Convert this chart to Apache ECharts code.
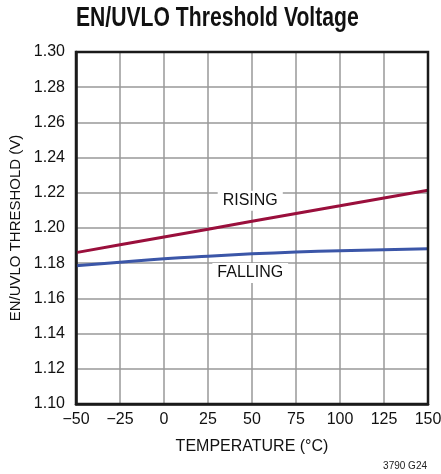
<!DOCTYPE html>
<html>
<head>
<meta charset="utf-8">
<script src="https://cdn.jsdelivr.net/npm/echarts@6/dist/echarts.min.js"></script>
<style>
html,body{margin:0;padding:0;background:#fff;}
#c{width:441px;height:474px;}
</style>
</head>
<body>
<div id="c"></div>
<script>
var temps = [-50, -25, 0, 25, 50, 75, 100, 125, 150];
var rising = [1.1860, 1.1905, 1.1949, 1.1993, 1.2038, 1.2082, 1.2126, 1.2171, 1.2215];
var falling = [1.1785, 1.1805, 1.1825, 1.1840, 1.1853, 1.1863, 1.1871, 1.1877, 1.1882];
var xTicks = [-50, -25, 0, 25, 50, 75, 100, 125, 150];
var yTicks = [1.10, 1.12, 1.14, 1.16, 1.18, 1.20, 1.22, 1.24, 1.26, 1.28, 1.30];
var labelRising = 'RISING';
var labelFalling = 'FALLING';

var FONT = "'Liberation Sans', Arial, sans-serif";

function pairs(xs, ys) { return xs.map(function (x, i) { return [x, ys[i]]; }); }

var chart = echarts.init(document.getElementById('c'), null, { renderer: 'canvas' });
chart.setOption({
  animation: false,
  backgroundColor: '#fff',
  graphic: [
    {
      type: 'text', left: 76, top: 4, scaleX: 0.755, originX: 0,
      style: { text: 'EN/UVLO Threshold Voltage', font: "bold 28px " + FONT, fill: '#111' }
    },
    {
      type: 'text', right: 14, top: 461,
      style: { text: '3790 G24', font: "10px " + FONT, fill: '#222' }
    }
  ],
  grid: {
    left: 76, top: 52, width: 352, height: 352,
    outerBoundsMode: 'none', containLabel: false,
    show: true, borderColor: '#1a1a1a', borderWidth: 2.5, backgroundColor: 'transparent',
    z: 5
  },
  xAxis: {
    type: 'value', min: xTicks[0], max: xTicks[xTicks.length - 1], interval: 25,
    name: 'TEMPERATURE (°C)', nameLocation: 'middle', nameGap: 35,
    nameTextStyle: { fontFamily: FONT, fontSize: 16, color: '#111' },
    axisLine: { show: true, onZero: false, lineStyle: { color: '#1a1a1a', width: 2.5 } },
    axisTick: { show: false },
    axisLabel: {
      margin: 8, fontFamily: FONT, fontSize: 16, color: '#111',
      formatter: function (v) { return v < 0 ? '\u2212' + Math.abs(v) : String(v); }
    },
    splitLine: { show: true, lineStyle: { color: '#999', width: 1.5 } }
  },
  yAxis: {
    type: 'value', min: yTicks[0], max: yTicks[yTicks.length - 1], interval: 0.02,
    name: 'EN/UVLO THRESHOLD (V)', nameLocation: 'middle', nameGap: 50,
    nameTextStyle: { fontFamily: FONT, fontSize: 15, color: '#111' },
    axisLine: { show: true, onZero: false, lineStyle: { color: '#1a1a1a', width: 2.5 } },
    axisTick: { show: false },
    axisLabel: {
      margin: 11, fontFamily: FONT, fontSize: 16, color: '#111',
      formatter: function (v) { return v.toFixed(2); }
    },
    splitLine: { show: true, lineStyle: { color: '#999', width: 1.5 } }
  },
  series: [
    {
      name: 'Rising', type: 'line', data: pairs(temps, rising), showSymbol: false,
      lineStyle: { color: '#9a0f3c', width: 3 }, z: 3,
      markPoint: {
        symbol: 'rect', symbolSize: 0,
        data: [{ coord: [49, 1.2155] }],
        label: {
          show: true, position: 'inside', formatter: labelRising,
          fontFamily: FONT, fontSize: 16, color: '#111',
          backgroundColor: '#fff', padding: [2, 5]
        }
      }
    },
    {
      name: 'Falling', type: 'line', data: pairs(temps, falling), showSymbol: false, smooth: true,
      lineStyle: { color: '#3b56a8', width: 3 }, z: 3,
      markPoint: {
        symbol: 'rect', symbolSize: 0,
        data: [{ coord: [49, 1.1744] }],
        label: {
          show: true, position: 'inside', formatter: labelFalling,
          fontFamily: FONT, fontSize: 16, color: '#111',
          backgroundColor: '#fff', padding: [2, 5]
        }
      }
    }
  ]
});
</script>
</body>
</html>
